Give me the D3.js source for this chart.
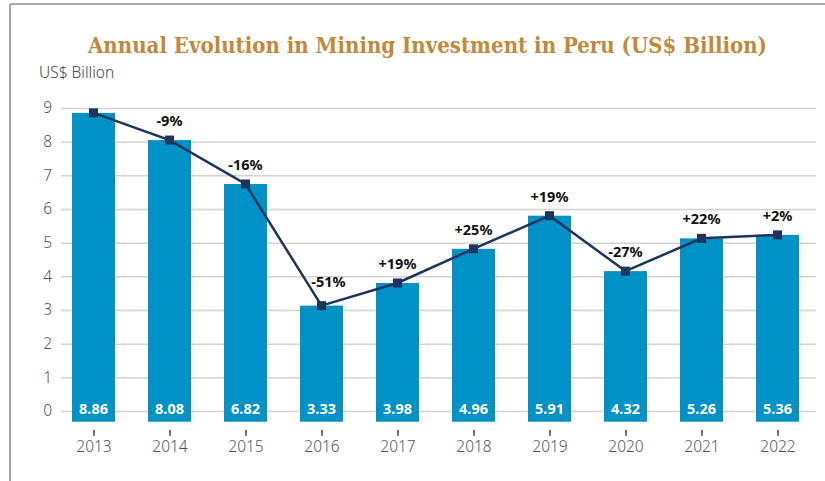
<!DOCTYPE html>
<html><head><meta charset="utf-8">
<script src="https://cdn.jsdelivr.net/npm/d3@7"></script>
<style>
html,body{margin:0;padding:0;background:#fff;}
svg{display:block;}
</style></head>
<body>
<svg id="chart" width="825" height="481"></svg>
<script>
const years = ["2013","2014","2015","2016","2017","2018","2019","2020","2021","2022"];
const investment = [8.86, 8.08, 6.82, 3.33, 3.98, 4.96, 5.91, 4.32, 5.26, 5.36];
const changeLabels = ["", "-9%", "-16%", "-51%", "+19%", "+25%", "+19%", "-27%", "+22%", "+2%"];
const yTicks = [0,1,2,3,4,5,6,7,8,9];
const titleText = "Annual Evolution in Mining Investment in Peru (US$ Billion)";
const unitText = "US$ Billion";

const svg = d3.select("#chart");
const font = "'Noto Sans', 'Open Sans', sans-serif";

// frame
svg.append("line").attr("x1",10).attr("x2",825).attr("y1",4).attr("y2",4)
  .attr("stroke","#8a8a8a").attr("stroke-width",1.5);
svg.append("line").attr("x1",10).attr("x2",10).attr("y1",4).attr("y2",481)
  .attr("stroke","#8a8a8a").attr("stroke-width",1.5);

// title
svg.append("text").attr("x",88).attr("y",53)
  .attr("font-family","'DejaVu Serif Condensed', 'DejaVu Serif', serif").attr("font-weight","bold")
  .attr("font-size",23).attr("fill","#c4883a")
  .attr("textLength",679).attr("lengthAdjust","spacingAndGlyphs").text(titleText);

svg.append("text").attr("x",39).attr("y",78)
  .attr("font-family",font).attr("font-weight",300).attr("font-size",15.5)
  .attr("fill","#444").text(unitText);

const x = d3.scalePoint().domain(years).range([93.5, 777.5]);
const yAxis = d3.scaleLinear().domain([0,9]).range([411,108]);
const yBar = d3.scaleLinear().domain([0,9]).range([421.7,108]);
const barW = 43;

// gridlines + y labels
const yg = svg.append("g").attr("transform","translate(61,0)")
  .call(d3.axisLeft(yAxis).tickValues(yTicks).tickSize(-755).tickPadding(9).tickFormat(d3.format("d")));
yg.select(".domain").remove();
yg.selectAll(".tick line").attr("stroke","#d2d2d2").attr("stroke-width",1.5);
yg.selectAll(".tick text").attr("font-family",font).attr("font-weight",300)
  .attr("font-size",15.5).attr("fill","#555");

// bars
svg.append("g").selectAll("rect").data(investment).join("rect")
  .attr("x",(d,i)=>x(years[i])-barW/2).attr("width",barW)
  .attr("y",d=>yBar(d)).attr("height",d=>yBar(0)-yBar(d))
  .attr("fill","#0091c7");

// value labels
svg.append("g").selectAll("text").data(investment).join("text")
  .attr("x",(d,i)=>x(years[i])).attr("y",414)
  .attr("text-anchor","middle").attr("font-family",font).attr("font-weight","bold")
  .attr("font-size",14.5).attr("fill","#fff").text(d=>d.toFixed(2));

// x axis
const xg = svg.append("g").attr("transform","translate(0,430)")
  .call(d3.axisBottom(x).tickSize(6).tickPadding(5));
xg.select(".domain").remove();
xg.selectAll(".tick line").attr("stroke","#444").attr("stroke-width",1.5);
xg.selectAll(".tick text").attr("font-family",font).attr("font-weight",300)
  .attr("font-size",15.5).attr("fill","#555");

// line
const line = d3.line().x((d,i)=>x(years[i])).y(d=>yBar(d));
svg.append("path").datum(investment).attr("d",line)
  .attr("fill","none").attr("stroke","#1b355e").attr("stroke-width",2.5);
svg.append("g").selectAll("rect").data(investment).join("rect")
  .attr("x",(d,i)=>x(years[i])-4.5).attr("y",d=>yBar(d)-4.5)
  .attr("width",9).attr("height",9).attr("fill","#1b355e");

// change labels (label for 2016 nudged off the steep line)
const nudge = {"2016":[7,-5]};
svg.append("g").selectAll("text").data(changeLabels).join("text")
  .attr("x",(d,i)=>x(years[i]) + (nudge[years[i]]?nudge[years[i]][0]:0))
  .attr("y",(d,i)=>yBar(investment[i]) - 14 + (nudge[years[i]]?nudge[years[i]][1]:0))
  .attr("text-anchor","middle").attr("font-family",font).attr("font-weight","bold")
  .attr("font-size",14.5).attr("fill","#111").text(d=>d);
</script>
</body></html>
